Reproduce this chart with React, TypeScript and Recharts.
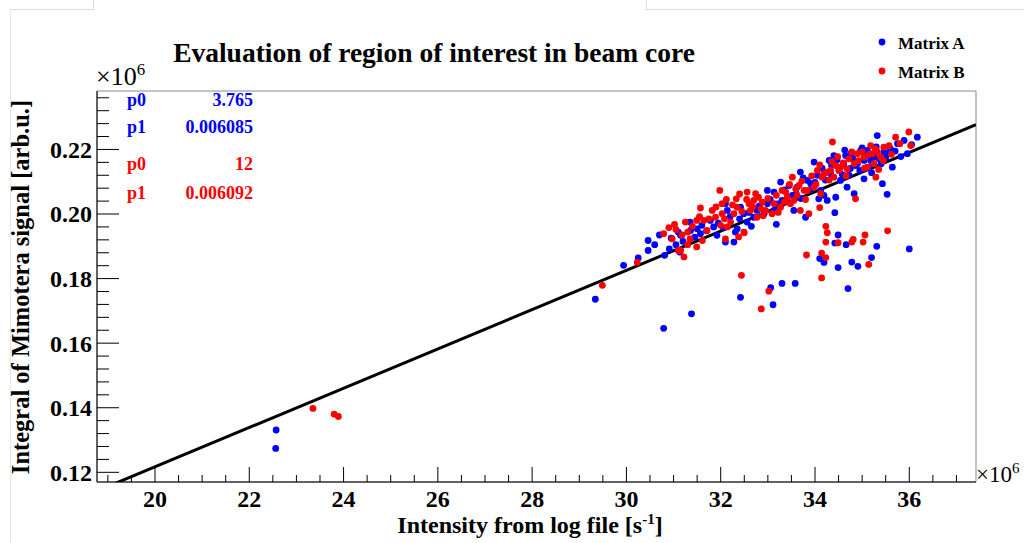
import { ScatterChart, Scatter, XAxis, YAxis, ReferenceArea, ReferenceLine } from "recharts"

const W = 1024
const H = 543
const SERIF = '"Liberation Serif", "Times New Roman", serif'

// axis ranges in units of 10^6
const xDomain: [number, number] = [18.77, 37.415]
const yDomain: [number, number] = [0.117, 0.2381]

const xMajorTicks = [20, 22, 24, 26, 28, 30, 32, 34, 36]
const yMajorTicks = [0.12, 0.14, 0.16, 0.18, 0.2, 0.22]

// linear fit results, raw units (signal vs s^-1)
const fitA = { p0: 3.765, p1: 0.006085 }
const fitB = { p0: 12, p1: 0.006092 }

// [intensity x1e6, signal x1e6]
const matrixA: [number, number][] = [
  [22.57, 0.1331], [22.56, 0.1274], [29.34, 0.1736], [30.79, 0.1646], [31.38, 0.1691],
  [29.94, 0.1841], [30.25, 0.1864], [30.46, 0.1918], [30.46, 0.1887], [30.81, 0.1872],
  [30.91, 0.1892], [31.1, 0.1944], [31.15, 0.1934], [31.13, 0.1882], [31.35, 0.1975],
  [31.36, 0.1949], [31.5, 0.1954], [31.57, 0.1939], [31.78, 0.198], [31.85, 0.196],
  [31.92, 0.1934], [32.1, 0.2032], [32.14, 0.2011], [32.1, 0.1913], [32.28, 0.1913],
  [32.31, 0.1944], [32.35, 0.1954], [32.42, 0.2021], [32.56, 0.1975], [32.49, 0.2001],
  [32.7, 0.199], [32.77, 0.2011], [32.92, 0.2001], [32.99, 0.2073], [32.99, 0.2032],
  [33.13, 0.2011], [33.13, 0.2068], [33.18, 0.1968], [33.27, 0.2099], [33.3, 0.2042],
  [33.41, 0.2042], [33.52, 0.2058], [33.55, 0.2011], [33.62, 0.2083], [33.69, 0.213],
  [33.8, 0.199], [33.84, 0.2104], [33.91, 0.2094], [33.98, 0.2161], [34.05, 0.212],
  [34.08, 0.2047], [34.12, 0.2073], [34.19, 0.2058], [34.26, 0.2042], [34.3, 0.2166],
  [34.33, 0.2125], [34.4, 0.2181], [34.44, 0.2052], [34.51, 0.2135], [34.54, 0.2104],
  [34.61, 0.2156], [34.65, 0.2181], [34.68, 0.2083], [34.72, 0.212], [34.76, 0.2187],
  [34.83, 0.2063], [34.86, 0.215], [34.9, 0.2156], [34.97, 0.2197], [35.04, 0.2109],
  [35.04, 0.2166], [35.11, 0.2197], [35.14, 0.2145], [35.18, 0.2166], [35.25, 0.2176],
  [35.32, 0.2243], [35.36, 0.2171], [35.43, 0.2094], [35.46, 0.2192], [35.53, 0.2187],
  [35.53, 0.2061], [35.6, 0.2202], [35.75, 0.2218], [35.89, 0.2228], [35.96, 0.2187],
  [36.17, 0.2238], [35.64, 0.2145], [36.0, 0.1892],
  [31.2, 0.1915], [31.45, 0.1928], [31.6, 0.1965], [31.7, 0.1948], [31.95, 0.1972],
  [32.05, 0.1958], [32.2, 0.1992], [32.4, 0.1985], [32.6, 0.2005], [32.65, 0.1962],
  [32.82, 0.2025], [33.05, 0.2045], [33.2, 0.2031], [33.35, 0.2075], [33.45, 0.2088],
  [33.6, 0.2062], [33.7, 0.2048], [33.75, 0.2112], [33.9, 0.2075], [34.0, 0.2098],
  [34.15, 0.2142], [34.22, 0.2105], [34.35, 0.2152], [34.47, 0.2168], [34.58, 0.2122],
  [34.63, 0.2198], [34.75, 0.2141], [34.8, 0.2172], [34.95, 0.2135], [35.0, 0.2205],
  [35.08, 0.2182], [35.2, 0.2128], [35.3, 0.2208], [35.4, 0.2155], [35.5, 0.2172],
  [35.7, 0.2195], [35.82, 0.2178], [36.05, 0.2215], [30.6, 0.1905], [30.95, 0.1925],
  [31.05, 0.1905], [30.7, 0.1935],
  [32.42, 0.1742], [33.06, 0.1772], [33.11, 0.1719], [33.3, 0.1785], [33.58, 0.1785],
  [34.1, 0.1862], [34.19, 0.185], [34.42, 0.2004], [34.49, 0.1935], [34.42, 0.191],
  [34.66, 0.1905], [35.31, 0.19], [34.78, 0.1851], [34.91, 0.1838], [35.2, 0.1865],
  [34.49, 0.1834], [34.7, 0.1769],
]

const matrixB: [number, number][] = [
  [23.35, 0.1398], [23.8, 0.138], [23.89, 0.1373], [29.49, 0.1779], [30.23, 0.185],
  [31.1, 0.1887], [30.79, 0.1939], [30.97, 0.1923], [31.02, 0.1968], [31.15, 0.1887],
  [31.22, 0.1867], [31.25, 0.1975], [31.3, 0.1944], [31.35, 0.1923], [31.49, 0.1898],
  [31.49, 0.198], [31.57, 0.2019], [31.61, 0.1918], [31.64, 0.198], [31.71, 0.1949],
  [31.82, 0.2011], [31.89, 0.199], [31.98, 0.2073], [32.03, 0.2032], [32.03, 0.2001],
  [32.08, 0.1985], [32.1, 0.1923], [32.14, 0.196], [32.21, 0.1975], [32.28, 0.2001],
  [32.33, 0.2047], [32.35, 0.2021], [32.38, 0.1929], [32.49, 0.1944], [32.56, 0.2068],
  [32.6, 0.2032], [32.63, 0.2011], [32.7, 0.2042], [32.74, 0.2063], [32.77, 0.199],
  [32.85, 0.2016], [32.88, 0.2037], [32.95, 0.2011], [33.09, 0.2001], [33.13, 0.2032],
  [33.27, 0.2021], [33.3, 0.2073], [33.38, 0.2068], [33.41, 0.2052], [33.48, 0.2032],
  [33.52, 0.2114], [33.55, 0.2042], [33.59, 0.2078], [33.66, 0.2089], [33.69, 0.2011],
  [33.77, 0.2073], [33.84, 0.2073], [33.87, 0.2001], [33.98, 0.2083], [34.05, 0.2135],
  [34.12, 0.2063], [34.15, 0.2114], [34.19, 0.2125], [34.26, 0.213], [34.33, 0.2135],
  [34.37, 0.2223], [34.4, 0.2114], [34.44, 0.215], [34.51, 0.2135], [34.54, 0.2145],
  [34.68, 0.214], [34.72, 0.2171], [34.83, 0.2156], [34.86, 0.2047], [34.9, 0.2187],
  [35.0, 0.2192], [35.04, 0.2176], [35.11, 0.2145], [35.18, 0.2212], [35.22, 0.2187],
  [35.25, 0.2156], [35.29, 0.2114], [35.32, 0.2192], [35.39, 0.2176], [35.46, 0.2207],
  [35.57, 0.2212], [35.71, 0.2238], [35.99, 0.2254], [36.03, 0.2212],
  [31.05, 0.1952], [31.18, 0.1935], [31.4, 0.1962], [31.55, 0.1992], [31.75, 0.1985],
  [31.9, 0.2022], [32.0, 0.1965], [32.12, 0.2045], [32.25, 0.2028], [32.4, 0.2062],
  [32.45, 0.2008], [32.55, 0.2045], [32.68, 0.2022], [32.8, 0.2052], [32.9, 0.1995],
  [33.0, 0.2048], [33.18, 0.2058], [33.22, 0.2005], [33.35, 0.2038], [33.46, 0.2092],
  [33.62, 0.2058], [33.72, 0.2102], [33.8, 0.2045], [33.93, 0.2118], [34.02, 0.2092],
  [34.1, 0.2152], [34.3, 0.2105], [34.36, 0.2162], [34.48, 0.2178], [34.6, 0.2158],
  [34.66, 0.2118], [34.78, 0.2192], [34.92, 0.2165], [35.05, 0.2142], [35.15, 0.2185],
  [35.28, 0.2202], [35.35, 0.2138], [35.45, 0.2165], [35.62, 0.2185], [35.8, 0.2218],
  [30.9, 0.1958], [31.3, 0.1905],
  [32.44, 0.181], [33.02, 0.1761], [32.86, 0.1706], [33.82, 0.1873], [34.14, 0.1879],
  [34.23, 0.1865], [34.14, 0.1802], [34.23, 0.1962], [34.26, 0.1942], [34.23, 0.1913],
  [34.49, 0.1911], [34.78, 0.1913], [34.81, 0.1921], [35.02, 0.1913], [35.06, 0.1935],
  [35.54, 0.1948], [35.14, 0.1844], [32.5, 0.1942], [34.1, 0.202],
]

const steps = (from: number, to: number, step: number) => {
  const out: number[] = []
  for (let v = from; v <= to + 1e-9; v += step) out.push(+v.toFixed(4))
  return out
}
const xTicks = steps(19, 37, 0.5)
const yTicks = steps(0.12, 0.236, 0.004)

const toPoints = (rows: [number, number][]) => rows.map(([x, y]) => ({ x, y }))

// fit evaluated in plotted units
const fitAt = (x: number) => fitA.p0 / 1e6 + fitA.p1 * x

const XTick = (props: any) => {
  const { x, y, payload } = props
  const major = xMajorTicks.includes(payload.value)
  return (
    <g>
      <line x1={x} x2={x} y1={y} y2={y - (major ? 15 : 7)} stroke="#000" />
      {major && (
        <text x={x} y={y + 25} textAnchor="middle" fontFamily={SERIF} fontWeight="bold" fontSize={24} fill="#000">
          {payload.value}
        </text>
      )}
    </g>
  )
}

const YTick = (props: any) => {
  const { x, y, payload } = props
  const major = yMajorTicks.some((t) => Math.abs(t - payload.value) < 1e-6)
  return (
    <g>
      <line x1={x} x2={x + (major ? 22 : 12)} y1={y} y2={y} stroke="#000" />
      {major && (
        <text x={x - 5} y={y} dy="0.35em" textAnchor="end" fontFamily={SERIF} fontWeight="bold" fontSize={24} fill="#000">
          {payload.value.toFixed(2)}
        </text>
      )}
    </g>
  )
}

const dot = (color: string) => (p: any) => <circle cx={p.cx} cy={p.cy} r={3.4} fill={color} />

const Times10 = ({ left, top, size }: { left: number; top: number; size: number }) => (
  <div style={{ position: "absolute", left, top, fontFamily: SERIF, fontSize: size, lineHeight: `${size}px`, whiteSpace: "nowrap" }}>
    ×10<sup style={{ fontSize: size * 0.65, verticalAlign: 0, position: "relative", top: -size * 0.38 }}>6</sup>
  </div>
)

const ParamRow = ({ top, color, name, value }: { top: number; color: string; name: string; value: string }) => (
  <div style={{ position: "absolute", left: 127, top, width: 126, color, fontFamily: SERIF, fontWeight: "bold", fontSize: 18, lineHeight: "20px" }}>
    <span>{name}</span>
    <span style={{ position: "absolute", right: 0 }}>{value}</span>
  </div>
)

export default function App() {
  return (
    <div style={{ position: "absolute", left: 0, top: 0, width: W, height: H, background: "#fff", overflow: "hidden" }}>
      {/* canvas window edges */}
      <div style={{ position: "absolute", left: 93, top: -1, width: 552, height: 10, border: "1px solid #ddd", borderBottom: "none" }} />
      <div style={{ position: "absolute", left: 10, top: 9, width: 84, borderTop: "1px solid #ddd" }} />
      <div style={{ position: "absolute", left: 645, top: 9, width: 380, borderTop: "1px solid #ddd" }} />
      <div style={{ position: "absolute", left: 10, top: 9, height: 540, borderLeft: "1px solid #e6e6e6" }} />

      <ScatterChart width={W} height={H} margin={{ top: 91, right: 48, bottom: 0, left: 0 }}>
        <ReferenceArea
          x1={xDomain[0]}
          x2={xDomain[1]}
          y1={yDomain[0]}
          y2={yDomain[1]}
          fill="none"
          stroke="#888"
          ifOverflow="visible"
        />
        <XAxis
          type="number"
          dataKey="x"
          domain={xDomain}
          allowDataOverflow
          ticks={xTicks}
          interval={0}
          tickSize={0}
          tickMargin={0}
          tick={XTick}
          axisLine={{ stroke: "#000" }}
          height={61}
        />
        <YAxis
          type="number"
          dataKey="y"
          domain={yDomain}
          allowDataOverflow
          ticks={yTicks}
          interval={0}
          tickSize={0}
          tickMargin={0}
          tick={YTick}
          axisLine={{ stroke: "#000" }}
          width={97}
        />
        <Scatter name="Matrix A" data={toPoints(matrixA)} shape={dot("#0000ff")} isAnimationActive={false} />
        <Scatter name="Matrix B" data={toPoints(matrixB)} shape={dot("#ff0000")} isAnimationActive={false} />
        <ReferenceLine
          segment={[
            { x: xDomain[0], y: fitAt(xDomain[0]) },
            { x: xDomain[1], y: fitAt(xDomain[1]) },
          ]}
          stroke="#000"
          strokeWidth={3}
          ifOverflow="hidden"
        />
      </ScatterChart>

      <div style={{ position: "absolute", left: 0, top: 36, width: 868, textAlign: "center", fontFamily: SERIF, fontWeight: "bold", fontSize: 27.5, lineHeight: "34px" }}>
        Evaluation of region of interest in beam core
      </div>

      <Times10 left={96} top={64} size={26} />
      <Times10 left={976} top={463} size={23} />

      {/* legend */}
      <svg style={{ position: "absolute", left: 0, top: 0 }} width={W} height={100}>
        <circle cx={882} cy={42} r={3.4} fill="#0000ff" />
        <circle cx={882} cy={71} r={3.4} fill="#ff0000" />
        <text x={898} y={49} fontFamily={SERIF} fontWeight="bold" fontSize={17}>Matrix A</text>
        <text x={898} y={78} fontFamily={SERIF} fontWeight="bold" fontSize={17}>Matrix B</text>
      </svg>

      <ParamRow top={90} color="#0000ff" name="p0" value={String(fitA.p0)} />
      <ParamRow top={117} color="#0000ff" name="p1" value={String(fitA.p1)} />
      <ParamRow top={154} color="#ff0000" name="p0" value={String(fitB.p0)} />
      <ParamRow top={183} color="#ff0000" name="p1" value={String(fitB.p1)} />

      <div style={{ position: "absolute", left: 530 - 300, top: 510, width: 600, textAlign: "center", fontFamily: SERIF, fontWeight: "bold", fontSize: 24, lineHeight: "30px" }}>
        Intensity from log file [s<sup style={{ fontSize: 15, verticalAlign: 0, position: "relative", top: -9 }}>-1</sup>]
      </div>
      <div
        style={{
          position: "absolute",
          left: 21 - 250,
          top: 287 - 15,
          width: 500,
          height: 30,
          textAlign: "center",
          fontFamily: SERIF,
          fontWeight: "bold",
          fontSize: 24.5,
          lineHeight: "30px",
          transform: "rotate(-90deg)",
        }}
      >
        Integral of Mimotera signal [arb.u.]
      </div>
    </div>
  )
}
